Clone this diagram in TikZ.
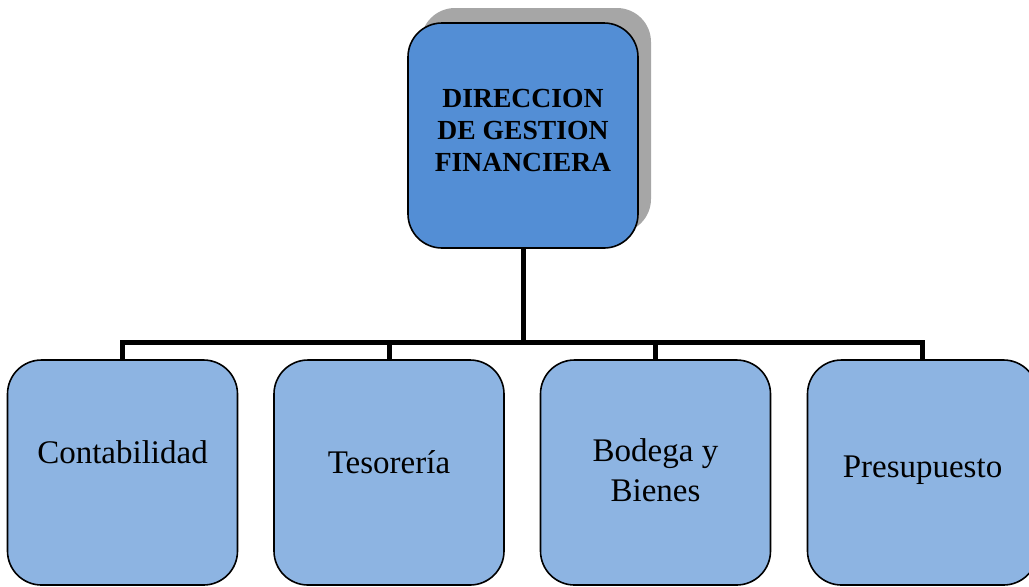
\documentclass[tikz,border=0pt]{standalone}
\usepackage{fontspec}
\setmainfont{Liberation Serif}
\usetikzlibrary{shadows}
\usetikzlibrary{positioning}

\definecolor{jefe}{RGB}{83,142,213}
\definecolor{unidad}{RGB}{141,180,226}

\tikzset{
  caja/.style={draw=black, line width=0.8pt, rounded corners=17pt,
    minimum width=115pt, minimum height=112.5pt},
  enlace/.style={line width=2.5pt},
  titulo/.style={font=\bfseries\fontsize{13.8}{16}\selectfont, align=center},
  rotulo/.style={font=\fontsize{16.5}{20}\selectfont, align=center},
}

\begin{document}
\begin{tikzpicture}[x=0.5pt,y=-0.5pt]
    \useasboundingbox (0,0) rectangle (1029,586);
    \node[caja, fill=jefe, drop shadow={shadow xshift=6.5pt, shadow yshift=7.5pt,
      fill=black!35, opacity=1}] (dir) at (523,135.5) {};
    \node[titulo] (dirtxt) at (523,130) {DIRECCION\\DE GESTION\\FINANCIERA};
    \foreach \x/\n in {122.5/cont, 389/teso, 655.5/bode, 922.5/pres}
      \node[caja, fill=unidad] (\n) at (\x,472.5) {};
    \node[rotulo] (conttxt) at (122.5,452) {Contabilidad};
    \node[rotulo] (tesotxt) at (389,462) {Tesorería};
    \node[rotulo] (bodetxt) at (655.5,470) {Bodega y\\Bienes};
    \node[rotulo] (prestxt) at (922.5,470) {Presupuesto};
    \coordinate (bus) at (523,342);
    \draw[enlace] (dir.south) -- (bus);
    \draw[enlace] (cont.north) -- (cont.north |- bus) -- (pres.north |- bus) -- (pres.north);
    \draw[enlace] (teso.north) -- (teso.north |- bus);
    \draw[enlace] (bode.north) -- (bode.north |- bus);
  \end{tikzpicture}
\end{document}
